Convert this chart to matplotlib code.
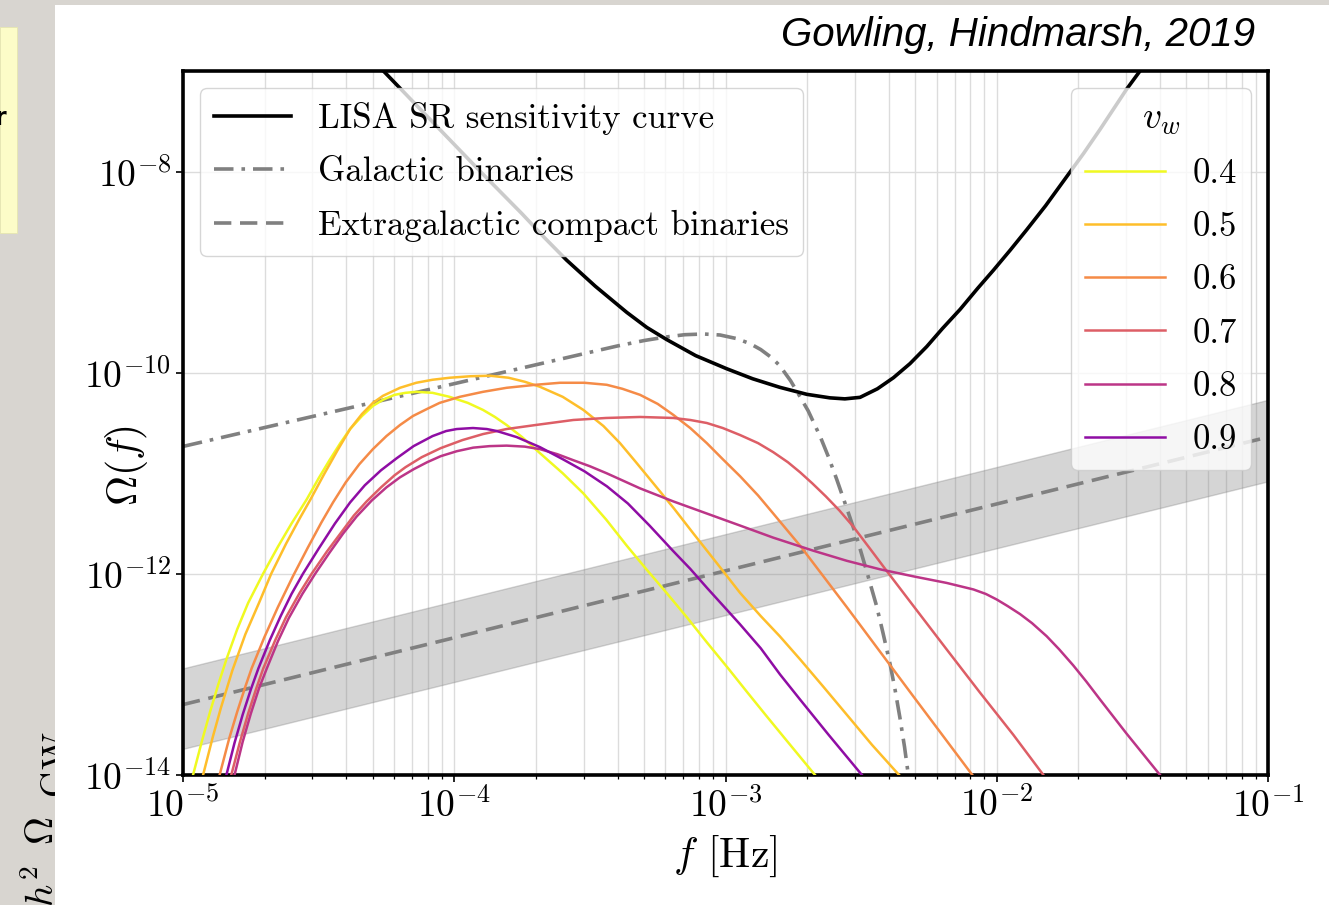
import numpy as np
import matplotlib.pyplot as plt
from matplotlib.patches import Rectangle
from matplotlib.lines import Line2D
from matplotlib.ticker import LogLocator, NullLocator, NullFormatter

plt.rcParams['font.family'] = 'serif'
plt.rcParams['font.serif'] = ['cmr10', 'DejaVu Serif']
plt.rcParams['mathtext.fontset'] = 'cm'
plt.rcParams['axes.formatter.use_mathtext'] = True

# all values are log10(f / Hz) and log10(Omega)
lisa_f = np.array([-4.261, -3.90, -3.75, -3.67, -3.586, -3.48, -3.364, -3.29, -3.217,
                   -3.11, -2.996, -2.90, -2.80, -2.70, -2.615, -2.56, -2.504, -2.44,
                   -2.381, -2.32, -2.258, -2.20, -2.135, -2.07, -2.012, -1.95, -1.890,
                   -1.82, -1.742, -1.68, -1.619, -1.57, -1.521, -1.472])
lisa_O = np.array([-7.00, -8.01, -8.42, -8.65, -8.88, -9.14, -9.40, -9.55, -9.67,
                   -9.83, -9.96, -10.06, -10.145, -10.215, -10.25, -10.26, -10.245, -10.16,
                   -10.05, -9.91, -9.74, -9.56, -9.37, -9.16, -8.98, -8.78, -8.58,
                   -8.34, -8.05, -7.82, -7.58, -7.38, -7.18, -7.00])

gb_f = np.array([-5.0, -3.50, -3.40, -3.30, -3.22, -3.15, -3.08, -3.02, -2.96, -2.91,
                 -2.87, -2.83, -2.80, -2.76, -2.725, -2.695, -2.65, -2.62, -2.59, -2.55,
                 -2.516, -2.48, -2.443, -2.42, -2.393, -2.375, -2.357, -2.34, -2.326])
gb_O = np.array([-10.733, -9.797, -9.735, -9.68, -9.645, -9.622, -9.615, -9.625, -9.66,
                 -9.71, -9.77, -9.85, -9.93, -10.08, -10.24, -10.38, -10.64, -10.84,
                 -11.06, -11.37, -11.64, -11.97, -12.32, -12.58, -12.90, -13.15, -13.43,
                 -13.72, -14.0])

egb_f = np.array([-5.0, -1.0])
egb_O = np.array([-13.30, -10.64])
egb_hi = np.array([-12.94, -10.27])
egb_lo = np.array([-13.74, -11.08])

vw_labels = ['0.4', '0.5', '0.6', '0.7', '0.8', '0.9']

v04_f = np.array([-4.963, -4.93, -4.90, -4.87, -4.84, -4.80, -4.76, -4.705, -4.65, -4.60,
                  -4.544, -4.50, -4.46, -4.42, -4.384, -4.34, -4.30, -4.26, -4.22, -4.18,
                  -4.14, -4.08, -4.017, -3.95, -3.894, -3.85, -3.807, -3.75, -3.684, -3.60,
                  -3.524, -3.44, -3.364, -3.29, -3.217, -3.14, -3.069, -2.99, -2.922,
                  -2.85, -2.78, -2.67])
v04_O = np.array([-14.0, -13.66, -13.37, -13.10, -12.85, -12.55, -12.29, -12.00, -11.73,
                  -11.50, -11.26, -11.05, -10.87, -10.70, -10.56, -10.43, -10.33, -10.265,
                  -10.22, -10.20, -10.19, -10.20, -10.24, -10.30, -10.37, -10.44, -10.52,
                  -10.64, -10.80, -11.00, -11.20, -11.46, -11.72, -11.96, -12.19, -12.44,
                  -12.68, -12.94, -13.17, -13.41, -13.64, -14.0])

v05_f = np.array([-4.926, -4.89, -4.86, -4.818, -4.77, -4.72, -4.675, -4.62, -4.57, -4.53,
                  -4.48, -4.43, -4.384, -4.34, -4.30, -4.263, -4.20, -4.14, -4.08, -4.017,
                  -3.94, -3.868, -3.80, -3.74, -3.684, -3.60, -3.524, -3.45, -3.389, -3.33,
                  -3.266, -3.19, -3.118, -3.03, -2.946, -2.87, -2.80, -2.725, -2.64, -2.553,
                  -2.46, -2.36])
v05_O = np.array([-14.0, -13.62, -13.33, -12.96, -12.60, -12.29, -12.00, -11.70, -11.45,
                  -11.26, -11.01, -10.77, -10.56, -10.41, -10.30, -10.23, -10.15, -10.10,
                  -10.07, -10.05, -10.035, -10.03, -10.05, -10.09, -10.14, -10.24, -10.37,
                  -10.53, -10.70, -10.89, -11.10, -11.35, -11.60, -11.90, -12.19, -12.42,
                  -12.62, -12.85, -13.12, -13.40, -13.70, -14.0])

v06_f = np.array([-4.865, -4.83, -4.80, -4.77, -4.747, -4.70, -4.65, -4.594, -4.54, -4.49,
                  -4.447, -4.40, -4.35, -4.30, -4.25, -4.20, -4.152, -4.10, -4.054, -3.98,
                  -3.894, -3.807, -3.70, -3.61, -3.52, -3.438, -3.38, -3.315, -3.25, -3.192,
                  -3.13, -3.069, -3.01, -2.946, -2.88, -2.824, -2.725, -2.553, -2.307,
                  -2.09])
v06_O = np.array([-14.0, -13.64, -13.37, -13.12, -12.94, -12.63, -12.33, -12.02, -11.74,
                  -11.49, -11.29, -11.09, -10.91, -10.76, -10.63, -10.52, -10.43, -10.36,
                  -10.30, -10.24, -10.19, -10.15, -10.12, -10.10, -10.10, -10.12, -10.16,
                  -10.22, -10.31, -10.42, -10.55, -10.70, -10.86, -11.03, -11.22, -11.40,
                  -11.72, -12.33, -13.22, -14.0])

v07_f = np.array([-4.822, -4.79, -4.76, -4.73, -4.704, -4.66, -4.62, -4.57, -4.526, -4.47,
                  -4.42, -4.37, -4.323, -4.27, -4.22, -4.18, -4.12, -4.05, -3.97, -3.894,
                  -3.807, -3.70, -3.561, -3.44, -3.315, -3.192, -3.13, -3.069, -3.01,
                  -2.946, -2.88, -2.824, -2.77, -2.725, -2.68, -2.63, -2.58, -2.529, -2.47,
                  -2.406, -2.307, -2.185, -2.062, -1.939, -1.828])
v07_O = np.array([-14.0, -13.67, -13.39, -13.14, -12.94, -12.66, -12.43, -12.19, -12.00,
                  -11.78, -11.60, -11.42, -11.28, -11.14, -11.02, -10.94, -10.84, -10.75,
                  -10.67, -10.61, -10.56, -10.52, -10.47, -10.45, -10.44, -10.45, -10.47,
                  -10.50, -10.55, -10.62, -10.70, -10.79, -10.89, -10.99, -11.10, -11.23,
                  -11.37, -11.53, -11.74, -11.97, -12.32, -12.75, -13.18, -13.60, -14.0])

v08_f = np.array([-4.810, -4.78, -4.75, -4.72, -4.691, -4.65, -4.61, -4.56, -4.513, -4.46,
                  -4.41, -4.36, -4.304, -4.25, -4.20, -4.15, -4.10, -4.05, -3.99, -3.93,
                  -3.87, -3.807, -3.74, -3.684, -3.62, -3.561, -3.50, -3.438, -3.315,
                  -3.192, -3.069, -2.946, -2.824, -2.676, -2.553, -2.43, -2.307, -2.185,
                  -2.086, -2.04, -2.00, -1.96, -1.914, -1.87, -1.816, -1.77, -1.718, -1.67,
                  -1.619, -1.521, -1.398])
v08_O = np.array([-14.0, -13.67, -13.39, -13.14, -12.94, -12.67, -12.44, -12.20, -12.00,
                  -11.79, -11.60, -11.43, -11.27, -11.14, -11.04, -10.96, -10.89, -10.83,
                  -10.78, -10.745, -10.73, -10.725, -10.735, -10.76, -10.81, -10.87, -10.93,
                  -11.00, -11.15, -11.28, -11.40, -11.52, -11.64, -11.77, -11.87, -11.955,
                  -12.025, -12.09, -12.155, -12.20, -12.255, -12.32, -12.40, -12.49, -12.62,
                  -12.75, -12.91, -13.07, -13.25, -13.59, -14.0])

v09_f = np.array([-4.840, -4.81, -4.78, -4.75, -4.722, -4.68, -4.64, -4.60, -4.558, -4.50,
                  -4.44, -4.384, -4.33, -4.27, -4.212, -4.15, -4.08, -4.03, -3.991, -3.931,
                  -3.88, -3.843, -3.77, -3.684, -3.60, -3.52, -3.437, -3.36, -3.28, -3.194,
                  -3.13, -3.068, -2.947, -2.87, -2.799, -2.725, -2.62, -2.497])
v09_O = np.array([-14.0, -13.68, -13.40, -13.15, -12.94, -12.66, -12.42, -12.20, -12.00,
                  -11.75, -11.50, -11.29, -11.12, -10.97, -10.85, -10.73, -10.63, -10.58,
                  -10.56, -10.55, -10.56, -10.58, -10.64, -10.74, -10.86, -10.98, -11.13,
                  -11.30, -11.52, -11.77, -11.95, -12.14, -12.50, -12.74, -13.00, -13.25,
                  -13.60, -14.0])

W, H = 1329, 905
fig = plt.figure(figsize=(W / 100, H / 100), dpi=100, facecolor='#d8d5d0')

# slide bits around the chart (the big y label of the slide is half hidden)
fig.add_artist(Rectangle((54.5 / W, 0), 1, (H - 5) / H, transform=fig.transFigure,
                         facecolor='white', edgecolor='none', zorder=-1))
fig.add_artist(Rectangle((0, (H - 233) / H), 16.5 / W, 206 / H, transform=fig.transFigure,
                         facecolor='#fcfcc8', edgecolor='#e6e6b0', lw=0.6, zorder=-1))
fig.text(7 / W, (H - 118) / H, 'r', ha='right', va='center', fontsize=17,
         fontweight='bold', family='DejaVu Sans', zorder=-0.5)
fig.text(54 / W, (H - 907) / H, r'$h^2\;\;\Omega$', rotation=90,
         rotation_mode='anchor', ha='left', va='baseline', fontsize=28, zorder=-2)
fig.text(67 / W, (H - 798) / H, r'$\mathrm{GW}$', rotation=90,
         rotation_mode='anchor', ha='left', va='baseline', fontsize=26, zorder=-2)
fig.text(1255 / W, (H - 46) / H, 'Gowling, Hindmarsh, 2019', ha='right', va='baseline',
         fontsize=29, style='italic', family='Liberation Sans')

ax = fig.add_axes([183 / W, (H - 775) / H, 1085 / W, 704 / H])
ax.set_xscale('log')
ax.set_yscale('log')

ax.fill_between(10 ** egb_f, 10 ** egb_lo, 10 ** egb_hi, color='gray', alpha=0.33,
                lw=1, zorder=1)
ax.plot(10 ** egb_f, 10 ** egb_O, color='gray', lw=2.6, ls=(0, (4.8, 2.4)), zorder=2)
ax.plot(10 ** gb_f, 10 ** gb_O, color='gray', lw=2.6, ls=(0, (5.4, 2.2, 1, 2.2)), zorder=2)
ax.plot(10 ** lisa_f, 10 ** lisa_O, color='black', lw=2.6, zorder=3)

cols = plt.cm.plasma(np.linspace(1.0, 0.3, 6))
curves = [(v04_f, v04_O), (v05_f, v05_O), (v06_f, v06_O),
          (v07_f, v07_O), (v08_f, v08_O), (v09_f, v09_O)]
for (lf, lo), c, lab in zip(curves, cols, vw_labels):
    ax.plot(10 ** lf, 10 ** lo, color=c, lw=1.8, zorder=4, label=lab)

ax.set_xlim(1e-5, 1e-1)
ax.set_ylim(1e-14, 1e-7)

ax.xaxis.set_major_locator(LogLocator(base=10, numticks=10))
ax.xaxis.set_minor_locator(LogLocator(base=10, subs=np.arange(2, 10), numticks=20))
ax.xaxis.set_minor_formatter(NullFormatter())
ax.set_yticks([1e-14, 1e-12, 1e-10, 1e-8])
ax.yaxis.set_minor_locator(NullLocator())

ax.set_axisbelow(True)
ax.grid(True, which='both', axis='x', color='#dcdcdc', lw=1.0)
ax.grid(True, which='major', axis='y', color='#dcdcdc', lw=1.0)

for s in ax.spines.values():
    s.set_linewidth(2.6)
ax.tick_params(which='major', labelsize=27, length=5, width=1.2)
ax.tick_params(which='minor', length=3, width=0.9)

ax.set_xlabel(r'$f$ [Hz]', fontsize=30, labelpad=7)
ax.set_ylabel(r'$\Omega(f)$', fontsize=30)
ax.yaxis.set_label_coords(-0.030, 0.44)

h1 = [Line2D([], [], color='black', lw=2.6),
      Line2D([], [], color='gray', lw=2.6, ls=(0, (5.4, 2.2, 1, 2.2))),
      Line2D([], [], color='gray', lw=2.6, ls=(0, (4.8, 2.4)))]
leg1 = ax.legend(h1, ['LISA SR sensitivity curve', 'Galactic binaries',
                      'Extragalactic compact binaries'],
                 loc='upper left', fontsize=25, handlelength=2.2, labelspacing=0.62)
ax.add_artist(leg1)
ax.legend(loc='upper right', title=r'$v_w$', fontsize=25, title_fontsize=27,
          handlelength=2.3, labelspacing=0.62)

fig.savefig('out.png', dpi=100, facecolor=fig.get_facecolor())
